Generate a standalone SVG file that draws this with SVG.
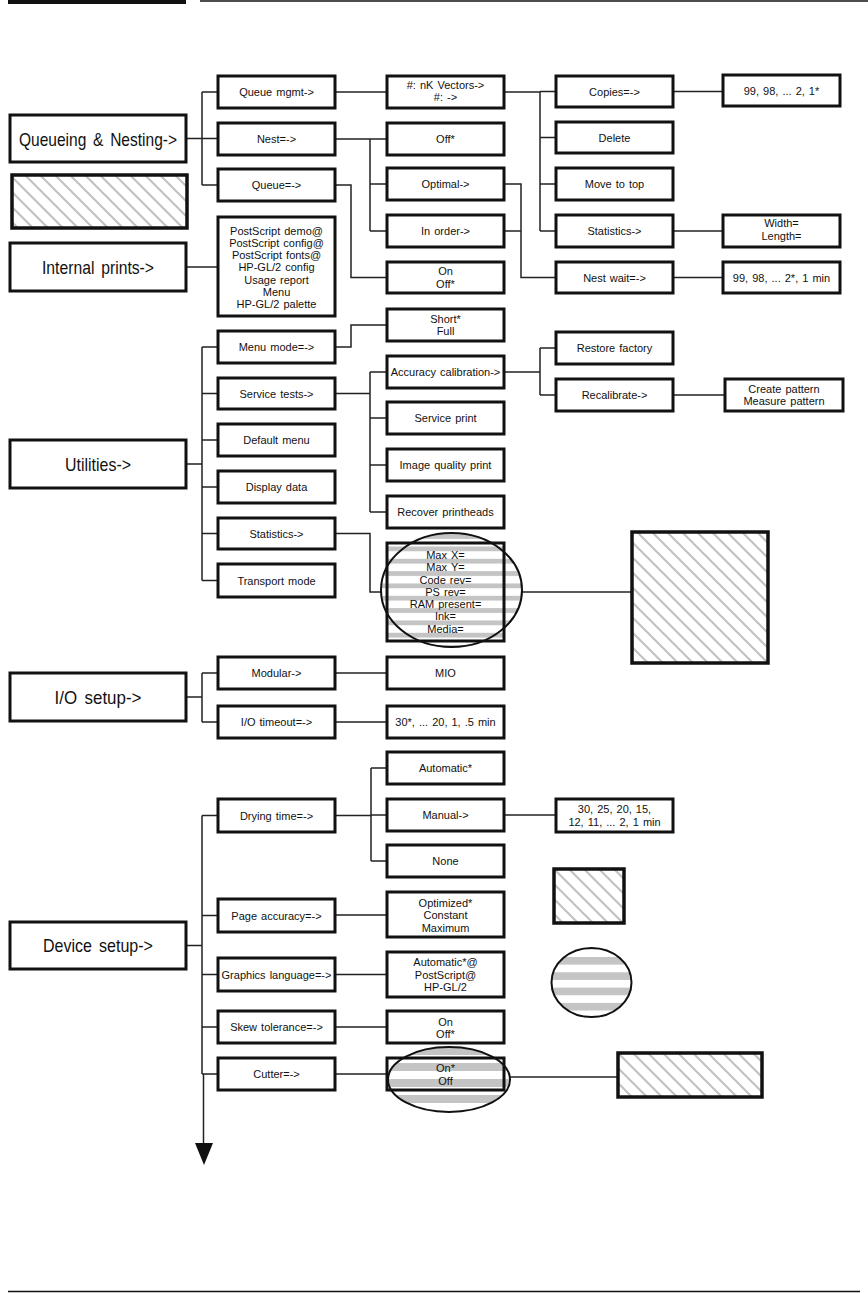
<svg xmlns="http://www.w3.org/2000/svg" width="868" height="1293" viewBox="0 0 868 1293">
<style>
.b{fill:#fff;stroke:#111;stroke-width:3}
.h{fill:url(#hatch);stroke:#111;stroke-width:3.5}
.t{font-family:"Liberation Sans",Arial,sans-serif;font-size:11px;text-anchor:middle;fill:#111;word-spacing:1px}
.g{font-size:19px;word-spacing:3px}
.c{fill:none;stroke:#222;stroke-width:1.5}
.e{stroke:#111;stroke-width:2}
</style>
<defs>
<pattern id="hatch" patternUnits="userSpaceOnUse" width="15" height="15">
<path d="M0,0 L15,15 M-4,11 L4,19 M11,-4 L19,4" stroke="#c2c2c2" stroke-width="2.2"/>
</pattern>
<pattern id="s1" patternUnits="userSpaceOnUse" x="0" y="558.8" width="20" height="12.33">
<rect width="20" height="12.33" fill="#fff"/><rect y="0" width="20" height="4.8" fill="#c4c4c4"/>
</pattern>
<pattern id="s2" patternUnits="userSpaceOnUse" x="0" y="1047" width="20" height="16">
<rect width="20" height="16" fill="#fff"/><rect y="0" width="20" height="8" fill="#c4c4c4"/>
</pattern>
<pattern id="s3" patternUnits="userSpaceOnUse" x="0" y="957" width="20" height="15.3">
<rect width="20" height="15.3" fill="#fff"/><rect y="0" width="20" height="7.6" fill="#c4c4c4"/>
</pattern>
</defs>

<g id="page-rules">
<rect x="8" y="0" width="178" height="4" fill="#111"/>
<line x1="200" y1="1" x2="868" y2="1" stroke="#111" stroke-width="1.5"/>
<line x1="8" y1="1291.5" x2="860" y2="1291.5" stroke="#111" stroke-width="1.5"/>
</g>

<g id="connectors">
<path class="c" d="M186,138.5 H218 M202,92 V185 M202,92 H218 M202,185 H218"/>
<path class="c" d="M186,267 H218"/>
<path class="c" d="M186,464 H202 M202,347 V580.5 M202,347 H218 M202,393.5 H218 M202,440 H218 M202,487 H218 M202,533.5 H218 M202,580.5 H218"/>
<path class="c" d="M186,697 H202 M202,673 V722 M202,673 H218 M202,722 H218"/>
<path class="c" d="M186,945.5 H202 M202,815.5 V1074 M202,815.5 H218 M202,915.5 H218 M202,974.5 H218 M202,1027 H218 M202,1074 H218"/>
<path class="c" d="M203.5,1074 V1145" stroke-width="2"/>
<polygon points="195,1143 213,1143 204,1165" fill="#111"/>
<path class="c" d="M335,92 H387"/>
<path class="c" d="M335,139 H370 M370,139 V231 M370,139 H387 M370,184 H387 M370,231 H387"/>
<path class="c" d="M335,185 H351 V277.5 H387"/>
<path class="c" d="M335,347 H351 V325 H387"/>
<path class="c" d="M335,393.5 H370 M370,372 V512 M370,372 H387 M370,418 H387 M370,465 H387 M370,512 H387"/>
<path class="c" d="M335,533.5 H370 V592 H387"/>
<path class="c" d="M335,673 H387 M335,722 H387"/>
<path class="c" d="M335,815.5 H371 M371,768 V861 M371,768 H387 M371,815 H387 M371,861 H387"/>
<path class="c" d="M335,915 H387 M335,974.5 H387 M335,1027 H387 M335,1074 H387"/>
<path class="c" d="M504,92 H540 M540,92 V231 M540,91.5 H556 M540,137.5 H556 M540,184 H556 M540,231 H556"/>
<path class="c" d="M504,184 H521 V277.5 H556 M504,231 H521"/>
<path class="c" d="M504,372 H540 M540,348 V395 M540,348 H556 M540,395 H556"/>
<path class="c" d="M504,815 H556"/>
<path class="c" d="M522,592 H632" stroke-width="2"/>
<path class="c" d="M510,1077 H618" stroke-width="2"/>
<path class="c" d="M673,91.5 H723 M673,231 H723 M673,277.5 H723 M673,395 H725"/>
</g>

<g id="n-queueing"><rect class="b" x="10" y="115" width="176" height="47"/><text class="t g" x="98" y="145.5" textLength="158" lengthAdjust="spacingAndGlyphs">Queueing &amp; Nesting-&gt;</text></g>
<g id="n-hatch-left"><rect class="h" x="12" y="175" width="175" height="53"/></g>
<g id="n-internal"><rect class="b" x="10" y="243" width="176" height="48"/><text class="t g" x="98" y="273.8" textLength="112" lengthAdjust="spacingAndGlyphs">Internal prints-&gt;</text></g>
<g id="n-utilities"><rect class="b" x="10" y="440" width="176" height="48"/><text class="t g" x="98" y="470.8" textLength="66" lengthAdjust="spacingAndGlyphs">Utilities-&gt;</text></g>
<g id="n-io"><rect class="b" x="10" y="673" width="176" height="48"/><text class="t g" x="98" y="703.8" textLength="87" lengthAdjust="spacingAndGlyphs">I/O setup-&gt;</text></g>
<g id="n-device"><rect class="b" x="10" y="922" width="176" height="47"/><text class="t g" x="98" y="952.3" textLength="110" lengthAdjust="spacingAndGlyphs">Device setup-&gt;</text></g>

<g id="n-queue-mgmt"><rect class="b" x="218" y="76" width="117" height="32"/><text class="t" x="276.5" y="96">Queue mgmt-&gt;</text></g>
<g id="n-nest"><rect class="b" x="218" y="123" width="117" height="32"/><text class="t" x="276.5" y="143">Nest=-&gt;</text></g>
<g id="n-queue"><rect class="b" x="218" y="169" width="117" height="32"/><text class="t" x="276.5" y="189">Queue=-&gt;</text></g>
<g id="n-internal-list"><rect class="b" x="218" y="217" width="117" height="99"/>
<text class="t" x="276.5" y="235">PostScript demo@</text>
<text class="t" x="276.5" y="247">PostScript config@</text>
<text class="t" x="276.5" y="259">PostScript fonts@</text>
<text class="t" x="276.5" y="271">HP-GL/2 config</text>
<text class="t" x="276.5" y="284">Usage report</text>
<text class="t" x="276.5" y="296">Menu</text>
<text class="t" x="276.5" y="308">HP-GL/2 palette</text></g>
<g id="n-menu-mode"><rect class="b" x="218" y="331" width="117" height="32"/><text class="t" x="276.5" y="351">Menu mode=-&gt;</text></g>
<g id="n-service-tests"><rect class="b" x="218" y="378" width="117" height="31"/><text class="t" x="276.5" y="397.5">Service tests-&gt;</text></g>
<g id="n-default-menu"><rect class="b" x="218" y="424" width="117" height="32"/><text class="t" x="276.5" y="444">Default menu</text></g>
<g id="n-display-data"><rect class="b" x="218" y="471" width="117" height="32"/><text class="t" x="276.5" y="491">Display data</text></g>
<g id="n-statistics-u"><rect class="b" x="218" y="518" width="117" height="31"/><text class="t" x="276.5" y="537.5">Statistics-&gt;</text></g>
<g id="n-transport"><rect class="b" x="218" y="564" width="117" height="33"/><text class="t" x="276.5" y="584.5">Transport mode</text></g>
<g id="n-modular"><rect class="b" x="218" y="657" width="117" height="32"/><text class="t" x="276.5" y="677">Modular-&gt;</text></g>
<g id="n-io-timeout"><rect class="b" x="218" y="706" width="117" height="32"/><text class="t" x="276.5" y="726">I/O timeout=-&gt;</text></g>
<g id="n-drying"><rect class="b" x="218" y="799" width="117" height="33"/><text class="t" x="276.5" y="819.5">Drying time=-&gt;</text></g>
<g id="n-page-acc"><rect class="b" x="218" y="899" width="117" height="33"/><text class="t" x="276.5" y="919.5">Page accuracy=-&gt;</text></g>
<g id="n-graphics"><rect class="b" x="218" y="958" width="117" height="33"/><text class="t" x="276.5" y="978.5">Graphics language=-&gt;</text></g>
<g id="n-skew"><rect class="b" x="218" y="1011" width="117" height="32"/><text class="t" x="276.5" y="1031">Skew tolerance=-&gt;</text></g>
<g id="n-cutter"><rect class="b" x="218" y="1058" width="117" height="32"/><text class="t" x="276.5" y="1078">Cutter=-&gt;</text></g>

<g id="n-vectors"><rect class="b" x="387" y="76" width="117" height="32"/><text class="t" x="445.5" y="89">#: nK Vectors-&gt;</text><text class="t" x="445.5" y="101">#: -&gt;</text></g>
<g id="n-off"><rect class="b" x="387" y="123" width="117" height="32"/><text class="t" x="445.5" y="143">Off*</text></g>
<g id="n-optimal"><rect class="b" x="387" y="168" width="117" height="32"/><text class="t" x="445.5" y="188">Optimal-&gt;</text></g>
<g id="n-inorder"><rect class="b" x="387" y="215" width="117" height="32"/><text class="t" x="445.5" y="235">In order-&gt;</text></g>
<g id="n-onoff-q"><rect class="b" x="387" y="262" width="117" height="31"/><text class="t" x="445.5" y="275">On</text><text class="t" x="445.5" y="288">Off*</text></g>
<g id="n-shortfull"><rect class="b" x="387" y="309" width="117" height="32"/><text class="t" x="445.5" y="323">Short*</text><text class="t" x="445.5" y="335">Full</text></g>
<g id="n-acc-cal"><rect class="b" x="387" y="356" width="117" height="32"/><text class="t" x="445.5" y="376">Accuracy calibration-&gt;</text></g>
<g id="n-service-print"><rect class="b" x="387" y="402" width="117" height="32"/><text class="t" x="445.5" y="422">Service print</text></g>
<g id="n-iq-print"><rect class="b" x="387" y="449" width="117" height="32"/><text class="t" x="445.5" y="469">Image quality print</text></g>
<g id="n-recover"><rect class="b" x="387" y="496" width="117" height="32"/><text class="t" x="445.5" y="516">Recover printheads</text></g>
<g id="n-stats-list">
<rect x="387" y="543" width="117" height="98" fill="url(#s1)"/>
<ellipse cx="451.5" cy="590" rx="70.5" ry="57" fill="url(#s1)"/>
<rect x="387" y="543" width="117" height="98" fill="none" stroke="#111" stroke-width="3"/>
<ellipse class="e" cx="451.5" cy="590" rx="70.5" ry="57" fill="none"/>
<text class="t" x="445.5" y="559">Max X=</text>
<text class="t" x="445.5" y="571">Max Y=</text>
<text class="t" x="445.5" y="584">Code rev=</text>
<text class="t" x="445.5" y="596">PS rev=</text>
<text class="t" x="445.5" y="608">RAM present=</text>
<text class="t" x="445.5" y="620">Ink=</text>
<text class="t" x="445.5" y="633">Media=</text></g>
<g id="n-mio"><rect class="b" x="387" y="657" width="117" height="32"/><text class="t" x="445.5" y="677">MIO</text></g>
<g id="n-timeout-vals"><rect class="b" x="387" y="706" width="117" height="32"/><text class="t" x="445.5" y="726">30*, ... 20, 1, .5 min</text></g>
<g id="n-automatic"><rect class="b" x="387" y="752" width="117" height="32"/><text class="t" x="445.5" y="772">Automatic*</text></g>
<g id="n-manual"><rect class="b" x="387" y="799" width="117" height="32"/><text class="t" x="445.5" y="819">Manual-&gt;</text></g>
<g id="n-none"><rect class="b" x="387" y="845" width="117" height="32"/><text class="t" x="445.5" y="865">None</text></g>
<g id="n-page-vals"><rect class="b" x="387" y="892" width="117" height="45"/><text class="t" x="445.5" y="907">Optimized*</text><text class="t" x="445.5" y="919">Constant</text><text class="t" x="445.5" y="932">Maximum</text></g>
<g id="n-lang-vals"><rect class="b" x="387" y="952" width="117" height="45"/><text class="t" x="445.5" y="966">Automatic*@</text><text class="t" x="445.5" y="979">PostScript@</text><text class="t" x="445.5" y="991">HP-GL/2</text></g>
<g id="n-skew-vals"><rect class="b" x="387" y="1011" width="117" height="32"/><text class="t" x="445.5" y="1026">On</text><text class="t" x="445.5" y="1038">Off*</text></g>
<g id="n-cutter-vals">
<ellipse cx="449" cy="1079.5" rx="61" ry="32.5" fill="url(#s2)"/>
<rect x="387" y="1058" width="117" height="32" fill="none" stroke="#111" stroke-width="3"/>
<ellipse class="e" cx="449" cy="1079.5" rx="61" ry="32.5" fill="none"/>
<text class="t" x="445.5" y="1072">On*</text><text class="t" x="445.5" y="1085">Off</text></g>

<g id="n-copies"><rect class="b" x="556" y="76" width="117" height="31"/><text class="t" x="614.5" y="95.5">Copies=-&gt;</text></g>
<g id="n-delete"><rect class="b" x="556" y="122" width="117" height="31"/><text class="t" x="614.5" y="141.5">Delete</text></g>
<g id="n-movetop"><rect class="b" x="556" y="168" width="117" height="32"/><text class="t" x="614.5" y="188">Move to top</text></g>
<g id="n-statistics-q"><rect class="b" x="556" y="215" width="117" height="32"/><text class="t" x="614.5" y="235">Statistics-&gt;</text></g>
<g id="n-nestwait"><rect class="b" x="556" y="262" width="117" height="31"/><text class="t" x="614.5" y="281.5">Nest wait=-&gt;</text></g>
<g id="n-restore"><rect class="b" x="556" y="332" width="117" height="32"/><text class="t" x="614.5" y="352">Restore factory</text></g>
<g id="n-recal"><rect class="b" x="556" y="379" width="117" height="32"/><text class="t" x="614.5" y="399">Recalibrate-&gt;</text></g>
<g id="n-drying-vals"><rect class="b" x="556" y="799" width="117" height="33"/><text class="t" x="614.5" y="813">30, 25, 20, 15,</text><text class="t" x="614.5" y="826">12, 11, ... 2, 1 min</text></g>

<g id="n-copies-vals"><rect class="b" x="723" y="75" width="117" height="31"/><text class="t" x="781.5" y="95">99, 98, ... 2, 1*</text></g>
<g id="n-wl"><rect class="b" x="723" y="215" width="117" height="32"/><text class="t" x="781.5" y="227">Width=</text><text class="t" x="781.5" y="240">Length=</text></g>
<g id="n-nestwait-vals"><rect class="b" x="723" y="262" width="117" height="31"/><text class="t" x="781.5" y="281.5">99, 98, ... 2*, 1 min</text></g>
<g id="n-pattern"><rect class="b" x="725" y="379" width="118" height="32"/><text class="t" x="784" y="393">Create pattern</text><text class="t" x="784" y="405">Measure pattern</text></g>

<g id="n-hatch-square"><rect class="h" x="632" y="532" width="136" height="131"/></g>
<g id="n-hatch-small"><rect class="h" x="554" y="869" width="70" height="54"/></g>
<g id="n-stripe-ellipse"><ellipse class="e" cx="591.5" cy="982.5" rx="40" ry="34.5" fill="url(#s3)"/></g>
<g id="n-hatch-cutter"><rect class="h" x="618" y="1053" width="144" height="44"/></g>
</svg>
